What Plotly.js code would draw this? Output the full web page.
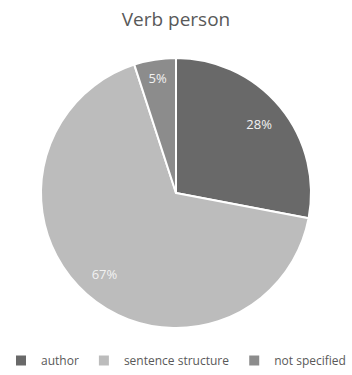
<!DOCTYPE html>
<html>
<head>
<meta charset="utf-8">
<script src="https://cdn.plot.ly/plotly-3.0.1.min.js"></script>
<style>html,body{margin:0;padding:0;background:#fff;}#chart{width:352px;height:375px;}</style>
</head>
<body>
<div id="chart"></div>
<script>
var categories = ["author", "sentence structure", "not specified"];
var values = [28, 67, 5];
var colors = ["#696969", "#bcbcbc", "#8c8c8c"];

var slices = {
  type: "pie",
  labels: categories,
  values: values,
  sort: false,
  direction: "clockwise",
  rotation: 0,
  marker: {colors: colors, line: {color: "#ffffff", width: 2}},
  textinfo: "none",
  hoverinfo: "none"
};

var labelsRing = {
  type: "pie",
  labels: categories,
  values: values,
  sort: false,
  direction: "clockwise",
  rotation: 0,
  hole: 0.6,
  showlegend: false,
  marker: {colors: ["rgba(0,0,0,0)", "rgba(0,0,0,0)", "rgba(0,0,0,0)"], line: {width: 0}},
  textinfo: "percent",
  texttemplate: "%{value}%",
  textposition: "inside",
  insidetextorientation: "horizontal",
  insidetextfont: {color: "#f2f2f2", size: 13, family: "Open Sans, sans-serif"},
  hoverinfo: "none"
};

var layout = {
  width: 352,
  height: 375,
  margin: {l: 0, r: 0, t: 58, b: 47},
  paper_bgcolor: "#ffffff",
  title: {text: "Verb person", font: {family: "Open Sans, sans-serif", size: 19, color: "#595959"}, x: 0.5, xanchor: "center", y: 0.965, yanchor: "top"},
  showlegend: true,
  legend: {orientation: "h", xref: "container", yref: "container", x: 0.5, xanchor: "center", y: -0.018, yanchor: "bottom",
    font: {family: "Open Sans, sans-serif", size: 12, color: "#595959"}, itemwidth: 30, tracegroupgap: 0}
};

Plotly.newPlot("chart", [slices, labelsRing], layout, {displayModeBar: false, staticPlot: true});
</script>
</body>
</html>
